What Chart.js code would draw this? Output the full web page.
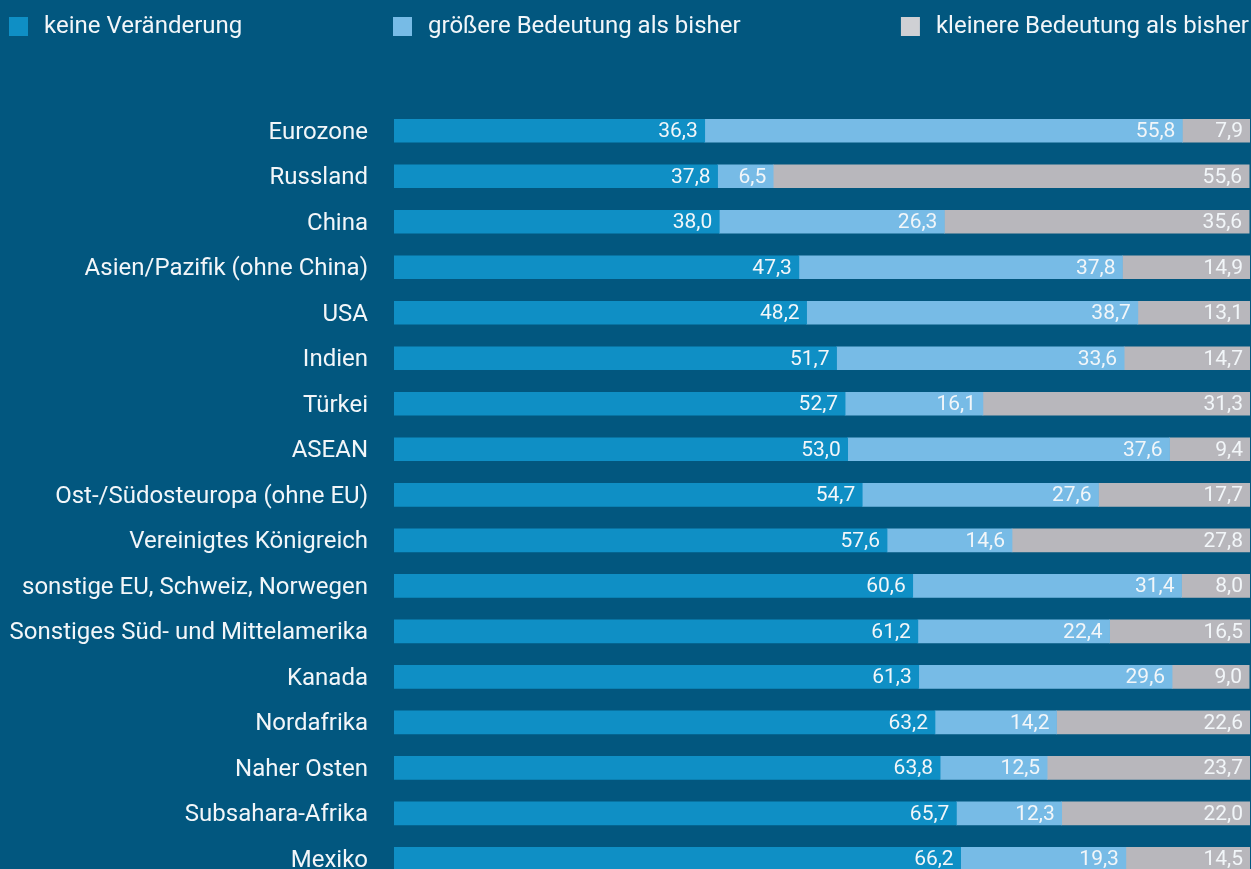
<!DOCTYPE html>
<html lang="de">
<head>
<meta charset="utf-8">
<script src="https://cdn.jsdelivr.net/npm/chart.js@4.4.1/dist/chart.umd.min.js"></script>
<style>
  html, body { margin: 0; padding: 0; background: #02577f; overflow: hidden; }
  canvas { display: block; }
</style>
</head>
<body>
<canvas id="c" width="1251" height="922"></canvas>
<script>
// Regionen (Kategorien) und Anteile in Prozent
const regionen = [
  'Eurozone', 'Russland', 'China', 'Asien/Pazifik (ohne China)', 'USA', 'Indien',
  'Türkei', 'ASEAN', 'Ost-/Südosteuropa (ohne EU)', 'Vereinigtes Königreich',
  'sonstige EU, Schweiz, Norwegen', 'Sonstiges Süd- und Mittelamerika', 'Kanada',
  'Nordafrika', 'Naher Osten', 'Subsahara-Afrika', 'Mexiko'
];
const keineVeraenderung = [36.3, 37.8, 38.0, 47.3, 48.2, 51.7, 52.7, 53.0, 54.7, 57.6, 60.6, 61.2, 61.3, 63.2, 63.8, 65.7, 66.2];
const groessereBedeutung = [55.8, 6.5, 26.3, 37.8, 38.7, 33.6, 16.1, 37.6, 27.6, 14.6, 31.4, 22.4, 29.6, 14.2, 12.5, 12.3, 19.3];
const kleinereBedeutung = [7.9, 55.6, 35.6, 14.9, 13.1, 14.7, 31.3, 9.4, 17.7, 27.8, 8.0, 16.5, 9.0, 22.6, 23.7, 22.0, 14.5];
const serienNamen = ['keine Veränderung', 'größere Bedeutung als bisher', 'kleinere Bedeutung als bisher'];

const FONT = 'Roboto, "DejaVu Sans", sans-serif';
const BG = '#02577f';
const TEXT = '#f2f6f9';
const farben = ['#0f8fc5', '#77bbe6', '#b8b7bc'];
const legendFarben = ['#0f8fc5', '#77bbe6', '#cfd0d4'];

const fmt = v => v.toFixed(1).replace('.', ',');

// Hintergrund
const hintergrund = {
  id: 'hintergrund',
  beforeDraw(chart) {
    const ctx = chart.ctx;
    ctx.save();
    ctx.fillStyle = BG;
    ctx.fillRect(0, 0, chart.width, chart.height);
    ctx.restore();
  }
};

// Wertbeschriftungen rechtsbündig am Ende jedes Segments
const wertLabels = {
  id: 'wertLabels',
  afterDatasetsDraw(chart) {
    const ctx = chart.ctx;
    ctx.save();
    ctx.font = '21px ' + FONT;
    ctx.fillStyle = TEXT;
    ctx.textAlign = 'right';
    ctx.textBaseline = 'middle';
    chart.data.datasets.forEach((ds, di) => {
      chart.getDatasetMeta(di).data.forEach((bar, i) => {
        ctx.fillText(fmt(ds.data[i]), Math.min(bar.x, chart.chartArea.right) - 7, bar.y + 1);
      });
    });
    ctx.restore();
  }
};

// Legende oben
const legende = {
  id: 'legende',
  afterDraw(chart) {
    const ctx = chart.ctx;
    const a = chart.chartArea;
    ctx.save();
    ctx.font = '24px ' + FONT;
    ctx.textBaseline = 'middle';
    ctx.textAlign = 'left';
    const y = 27;
    const w3 = ctx.measureText(serienNamen[2]).width;
    const startX = [9, a.left - 1, a.right - 1 - w3 - 35];
    serienNamen.forEach((name, i) => {
      ctx.fillStyle = legendFarben[i];
      ctx.fillRect(startX[i], 17, 19, 19);
      ctx.fillStyle = TEXT;
      ctx.fillText(name, startX[i] + 35, y);
    });
    ctx.restore();
  }
};

Chart.defaults.font.family = FONT;

new Chart(document.getElementById('c'), {
  type: 'bar',
  data: {
    labels: regionen,
    datasets: [
      { label: serienNamen[0], data: keineVeraenderung, backgroundColor: farben[0] },
      { label: serienNamen[1], data: groessereBedeutung, backgroundColor: farben[1] },
      { label: serienNamen[2], data: kleinereBedeutung, backgroundColor: farben[2] }
    ]
  },
  options: {
    indexAxis: 'y',
    responsive: false,
    animation: false,
    layout: { padding: { top: 108, right: 1, bottom: 0, left: 0 } },
    datasets: { bar: { barThickness: 23, borderWidth: 0 } },
    plugins: { legend: { display: false }, tooltip: { enabled: false } },
    scales: {
      x: {
        stacked: true, min: 0, max: 100, display: false
      },
      y: {
        stacked: true,
        grid: { display: false, drawTicks: false },
        border: { display: false },
        ticks: { color: TEXT, font: { size: 24 }, padding: 26, labelOffset: 2 },
        afterFit(scale) { scale.width = 394; }
      }
    }
  },
  plugins: [hintergrund, wertLabels, legende]
});
</script>
</body>
</html>
